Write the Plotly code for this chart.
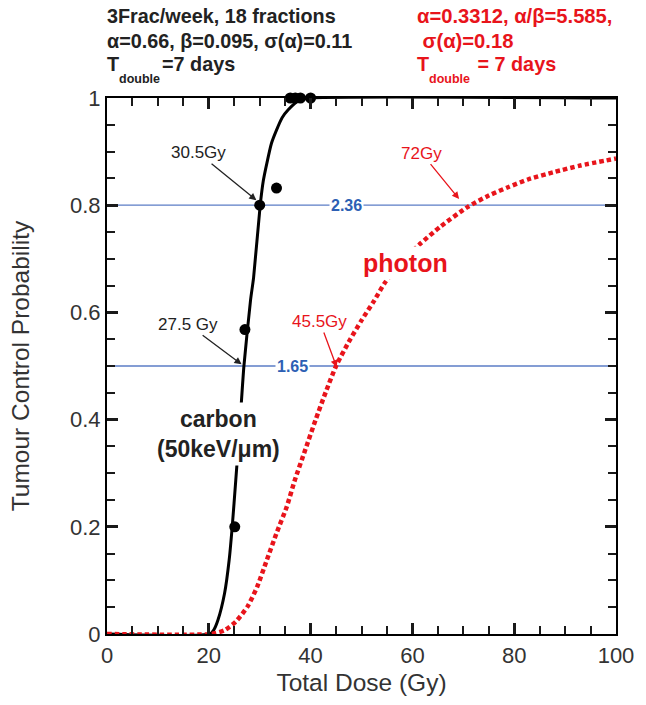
import plotly.graph_objects as go

# Carbon (50 keV/um) TCP curve
carbon_dose = [0, 20.2, 21.0, 21.8, 23.1, 24.0, 24.6, 25.3, 26.1, 26.9, 28.2, 28.8,
               30.1, 30.7, 31.4, 32.3, 33.3, 34.4, 35.6, 37.8, 40.0, 100]
carbon_tcp = [0, 0, 0.008, 0.026, 0.076, 0.138, 0.2, 0.287, 0.39, 0.5, 0.623, 0.665,
              0.8, 0.845, 0.878, 0.915, 0.94, 0.963, 0.978, 0.996, 1.0, 1.0]

# Carbon experimental points
carbon_obs_dose = [25.1, 27.1, 30.0, 33.3, 36.0, 37.0, 38.0, 40.0]
carbon_obs_tcp = [0.2, 0.568, 0.8, 0.832, 1.0, 1.0, 1.0, 1.0]

# Photon TCP curve
photon_dose = [0, 20.4, 23.1, 25.3, 27.6, 29.5, 31.4, 33.3, 35.3, 36.9, 39.0, 41.0,
               43.0, 45.0, 47.5, 50.0, 52.5, 54.5, 57.5, 61.3, 65.5, 70.9, 75.0,
               78.9, 83.0, 87.9, 93.0, 100]
photon_tcp = [0, 0, 0.007, 0.023, 0.051, 0.088, 0.138, 0.188, 0.237, 0.287, 0.345, 0.40,
              0.452, 0.5, 0.545, 0.585, 0.622, 0.654, 0.69, 0.726, 0.76, 0.797, 0.818,
              0.834, 0.849, 0.862, 0.874, 0.887]

# Reference TCP levels and RBE values at those levels
ref_levels = [0.8, 0.5]
ref_span = [0, 100]
rbe_labels = ["2.36", "1.65"]
rbe_label_dose = [47.1, 36.4]

# Dose labels: text, label position, arrow tip, colour
dose_labels = ["30.5Gy", "27.5 Gy", "45.5Gy", "72Gy"]
dose_label_xy = [(17.9, 0.898), (15.9, 0.578), (41.8, 0.583), (61.8, 0.897)]
dose_tip_xy = [(29.5, 0.808), (26.6, 0.502), (45.2, 0.496), (69.3, 0.81)]
dose_colors = ["#222222", "#222222", "#e8141b", "#e8141b"]

RED = "#e8141b"
BLUE_LINE = "#5b7cc6"
BLUE_TEXT = "#2d5fb4"
FONT = "Liberation Sans, Arial, sans-serif"

L, R, T, B = 107, 20, 98, 71
W, H = 646, 705
PW, PH = W - L - R, H - T - B


def px_x(px):
    return (px - L) / PW


def px_y(py):
    return (H - B - py) / PH


fig = go.Figure()

for lvl in ref_levels:
    fig.add_trace(go.Scatter(x=ref_span, y=[lvl, lvl], mode="lines",
                             line=dict(color=BLUE_LINE, width=1.3),
                             hoverinfo="skip", showlegend=False))

fig.add_trace(go.Scatter(x=carbon_dose, y=carbon_tcp, mode="lines",
                         line=dict(color="black", width=3, shape="spline", smoothing=0.6),
                         showlegend=False))

fig.add_trace(go.Scatter(x=photon_dose, y=photon_tcp, mode="lines",
                         line=dict(color=RED, width=4.5, dash="4.5px,3px",
                                   shape="spline", smoothing=0.6),
                         showlegend=False))

fig.add_trace(go.Scatter(x=carbon_obs_dose, y=carbon_obs_tcp, mode="markers",
                         marker=dict(color="black", size=11),
                         cliponaxis=False, showlegend=False))

annotations = []

# RBE values sitting on the reference lines
for txt, xd, lvl in zip(rbe_labels, rbe_label_dose, ref_levels):
    annotations.append(dict(x=xd, y=lvl, text=f"<b>{txt}</b>", showarrow=False,
                            font=dict(family=FONT, size=16, color=BLUE_TEXT),
                            bgcolor="white", borderpad=1))

# Dose labels, each with an arrow to where its curve crosses the reference level
for txt, (lx, ly), (tx, ty), col in zip(dose_labels, dose_label_xy, dose_tip_xy, dose_colors):
    annotations.append(dict(x=tx, y=ty, ax=lx, ay=ly, axref="x", ayref="y",
                            text=txt, showarrow=True, arrowhead=2, arrowsize=1.1,
                            arrowwidth=1.3, arrowcolor=col, standoff=1,
                            font=dict(family=FONT, size=17, color=col)))

# Curve names
annotations.append(dict(x=58.6, y=0.692, text="<b>photon</b>", showarrow=False,
                        font=dict(family=FONT, size=25, color=RED),
                        bgcolor="white", borderpad=2))
annotations.append(dict(x=21.9, y=0.373, text="<b>carbon<br>(50keV/μm)</b>", showarrow=False,
                        font=dict(family=FONT, size=23, color="#222222"),
                        bgcolor="white", borderpad=3))

# Model parameters above the plot
HDR_SIZE = 19.8
hdr_black = ["3Frac/week, 18 fractions", "α=0.66, β=0.095, σ(α)=0.11"]
hdr_red = ["α=0.3312, α/β=5.585,", " σ(α)=0.18"]
hdr_rows_py = [16, 41]
for txt, py in zip(hdr_black, hdr_rows_py):
    annotations.append(dict(xref="paper", yref="paper", x=px_x(105), y=px_y(py), text=f"<b>{txt}</b>",
                            xanchor="left", yanchor="middle", showarrow=False,
                            font=dict(family=FONT, size=HDR_SIZE, color="#222222")))
for txt, py in zip(hdr_red, hdr_rows_py):
    annotations.append(dict(xref="paper", yref="paper", x=px_x(421), y=px_y(py),
                            text=f"<b>{txt.replace(' ', '&nbsp;')}</b>",
                            xanchor="left", yanchor="middle", showarrow=False,
                            font=dict(family=FONT, size=20.2, color=RED)))

# T_double rows, built from pieces so the subscript sits well below the baseline
for x0, col, rest in [(105, "#222222", "=7 days"), (421, RED, "&nbsp;= 7 days")]:
    annotations.append(dict(xref="paper", yref="paper", x=px_x(x0), y=px_y(64), text="<b>T</b>",
                            xanchor="left", yanchor="middle", showarrow=False,
                            font=dict(family=FONT, size=HDR_SIZE, color=col)))
    annotations.append(dict(xref="paper", yref="paper", x=px_x(x0 + 12), y=px_y(79), text="<b>double</b>",
                            xanchor="left", yanchor="middle", showarrow=False,
                            font=dict(family=FONT, size=12.5, color=col)))
    annotations.append(dict(xref="paper", yref="paper", x=px_x(x0 + 56), y=px_y(64), text=f"<b>{rest}</b>",
                            xanchor="left", yanchor="middle", showarrow=False,
                            font=dict(family=FONT, size=HDR_SIZE, color=col)))

tickfont = dict(family=FONT, size=22, color="#333333")
title_font = dict(family=FONT, size=24.5, color="#333333")

fig.update_layout(
    width=W, height=H,
    margin=dict(l=L, r=R, t=T, b=B),
    paper_bgcolor="white", plot_bgcolor="white",
    showlegend=False,
    annotations=annotations,
    xaxis=dict(range=[0, 100], dtick=20, ticks="inside", ticklen=11, tickwidth=2.6,
               tickcolor="#1a1a1a", showline=True, linecolor="black", linewidth=2.2,
               mirror="allticks", tickfont=tickfont,
               minor=dict(dtick=5, ticks="inside", ticklen=8, tickwidth=2.4, tickcolor="#1a1a1a"),
               title=dict(text="Total Dose (Gy)", standoff=7, font=title_font)),
    yaxis=dict(range=[0, 1], dtick=0.2, ticks="inside", ticklen=11, tickwidth=2.6,
               tickcolor="#1a1a1a", showline=True, linecolor="black", linewidth=2.2,
               mirror="allticks", tickfont=tickfont,
               minor=dict(dtick=0.05, ticks="inside", ticklen=8, tickwidth=2.4, tickcolor="#1a1a1a"),
               title=dict(text="Tumour Control Probability", standoff=33, font=title_font)),
)

fig.write_html("out.html")
